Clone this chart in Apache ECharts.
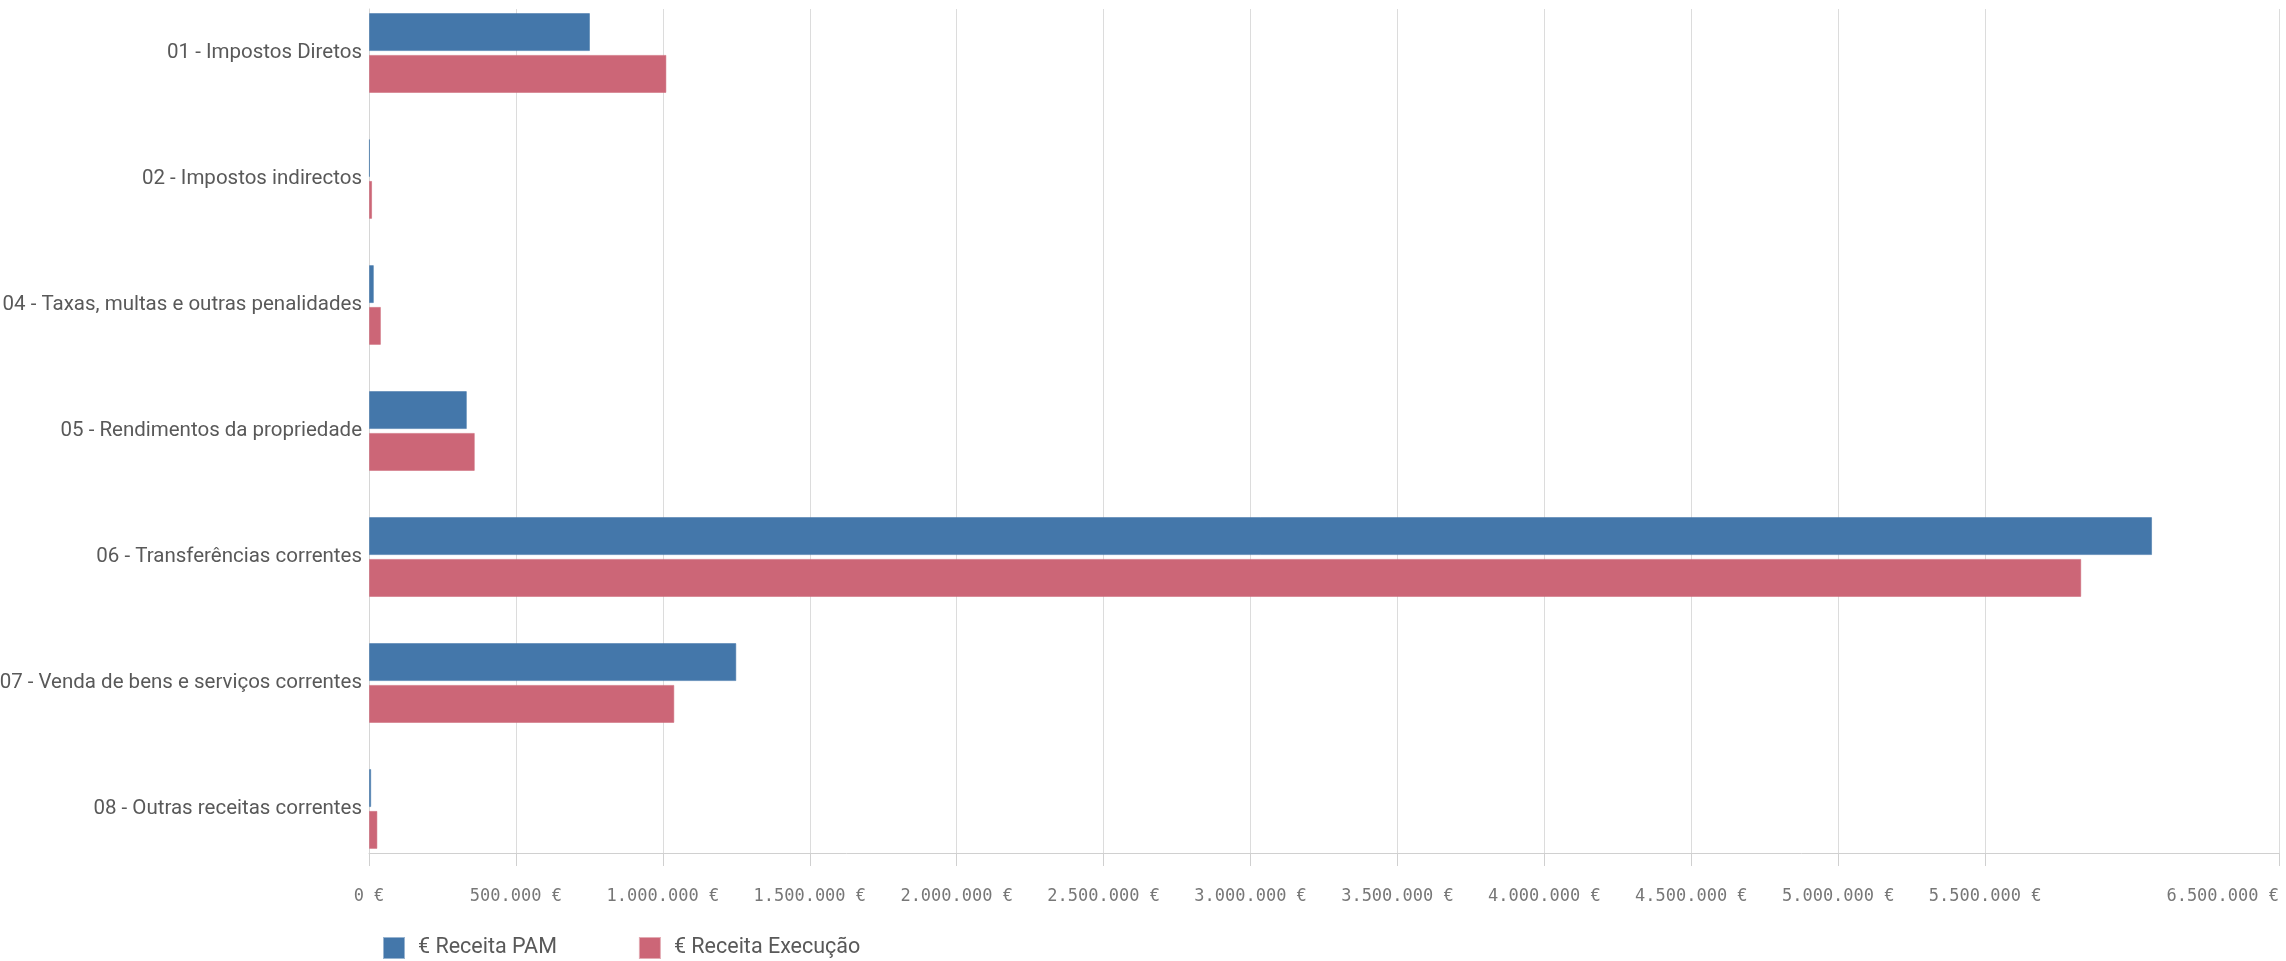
<!DOCTYPE html>
<html>
<head>
<meta charset="utf-8">
<script src="https://cdn.jsdelivr.net/npm/echarts@6/dist/echarts.min.js"></script>
<style>html,body{margin:0;padding:0;background:#fff}#c{width:2286px;height:961px}</style>
</head>
<body>
<div id="c"></div>
<script>
const categories = [
  '01 - Impostos Diretos',
  '02 - Impostos indirectos',
  '04 - Taxas, multas e outras penalidades',
  '05 - Rendimentos da propriedade',
  '06 - Transferências correntes',
  '07 - Venda de bens e serviços correntes',
  '08 - Outras receitas correntes'
];
const seriesNames = ['€ Receita PAM', '€ Receita Execução'];
const receitaPAM = [752000, 3000, 16500, 333000, 6068000, 1250000, 7500];
const receitaExecucao = [1012000, 10500, 40500, 360000, 5827000, 1039000, 28500];
const xTickValues = [0, 500000, 1000000, 1500000, 2000000, 2500000, 3000000, 3500000, 4000000, 4500000, 5000000, 5500000, 6500000];

const FONT = 'Roboto, "Liberation Sans", sans-serif';
const MONO = '"DejaVu Sans Mono", "Liberation Mono", monospace';
function euro(v) {
  return String(Math.round(v)).replace(/\B(?=(\d{3})+(?!\d))/g, '.') + ' €';
}

const chart = echarts.init(document.getElementById('c'));
chart.setOption({
  animation: false,
  backgroundColor: '#ffffff',
  textStyle: { fontFamily: FONT },
  legend: {
    left: 383, top: 937, padding: 0,
    icon: 'rect', itemWidth: 20, itemHeight: 20, itemGap: 82,
    textStyle: { fontSize: 21.5, color: '#595959', fontFamily: FONT, padding: [0, 0, 0, 9] },
    data: seriesNames
  },
  grid: [
    { left: 369, right: 7, top: -10, height: 882, outerBoundsMode: 'none', containLabel: false },
    { left: 369, right: 7, top: 9, bottom: 108, outerBoundsMode: 'none', containLabel: false }
  ],
  xAxis: [
    { gridIndex: 0, type: 'value', min: 0, max: 6500000, show: false },
    {
      gridIndex: 1, type: 'value', min: 0, max: 6500000, interval: 500000,
      axisLine: { show: true, lineStyle: { color: '#d0d0d0', width: 1 } },
      axisTick: { show: true, length: 13, lineStyle: { color: '#d0d0d0' }, customValues: xTickValues },
      splitLine: { show: true, lineStyle: { color: '#dcdcdc', width: 1 } },
      axisLabel: {
        customValues: xTickValues,
        formatter: euro, color: '#777777', fontSize: 17, margin: 35,
        fontFamily: MONO, alignMaxLabel: 'right'
      }
    }
  ],
  yAxis: [
    {
      gridIndex: 0, type: 'category', data: categories, inverse: true,
      axisLine: { show: false }, axisTick: { show: false }, splitLine: { show: false },
      axisLabel: { color: '#595959', fontSize: 20.5, margin: 7, fontFamily: FONT }
    },
    {
      gridIndex: 1, type: 'value', min: 0, max: 1,
      axisLine: { show: true, lineStyle: { color: '#d6d6d6' } },
      axisTick: { show: false }, axisLabel: { show: false }, splitLine: { show: false }
    }
  ],
  series: [
    {
      name: seriesNames[0], type: 'bar', xAxisIndex: 0, yAxisIndex: 0,
      data: receitaPAM, barWidth: 38, barGap: '10%',
      itemStyle: { color: '#4477aa', borderColor: 'rgba(68,119,170,0.55)', borderWidth: 1 }
    },
    {
      name: seriesNames[1], type: 'bar', xAxisIndex: 0, yAxisIndex: 0,
      data: receitaExecucao, barWidth: 38, barGap: '10%',
      itemStyle: { color: '#cc6677', borderColor: 'rgba(204,102,119,0.55)', borderWidth: 1 }
    }
  ]
});
</script>
</body>
</html>
